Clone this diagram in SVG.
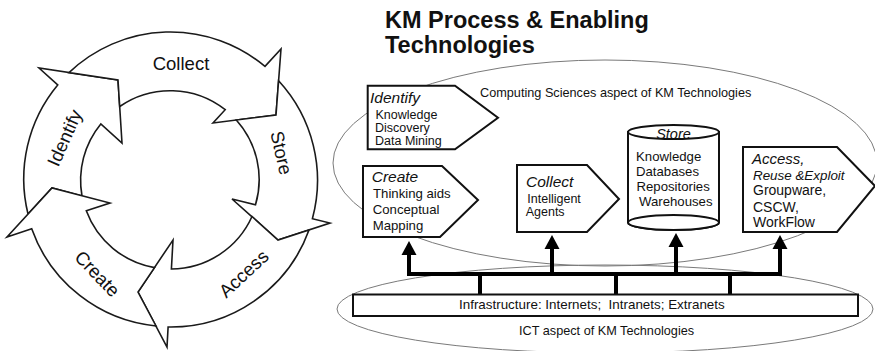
<svg xmlns="http://www.w3.org/2000/svg" width="875" height="351" viewBox="0 0 875 351">
<style>
text{font-family:"Liberation Sans",Arial,sans-serif;fill:#111}
.cyc{fill:#fff;stroke:#1a1a1a;stroke-width:1.6;stroke-linejoin:miter}
.cl{font-size:18.5px}
.box{fill:#fff;stroke:#111;stroke-width:2}
.hd{font-style:italic;font-size:15.5px}
.bd{font-size:12.5px}
.ell{fill:none;stroke:#7a7a7a;stroke-width:1}
.bus{fill:none;stroke:#000;stroke-width:4;stroke-linecap:butt}
.ah{fill:#000}
.asp{font-size:12.7px}
</style>
<rect width="875" height="351" fill="#fff"/>

<g id="cycle">
  <g id="arrow-identify">
    <path class="cyc" d="M28,214 A147,147 0 0 1 57.7,84.9 L39,68 L118,80 L122,143 L100.8,123.9 A89,89 0 0 0 82,196 L52,188 Z"/>
    <text class="cl" text-anchor="middle" transform="translate(65,138) rotate(-66)" y="6">Identify</text>
  </g>
  <g id="arrow-collect">
    <path class="cyc" d="M69,72.6 A147,147 0 0 1 265,66.4 L281,49 L276,115 L213,123 L225.2,109.7 A89,89 0 0 0 119.7,106.5 L118,80 Z"/>
    <text class="cl" text-anchor="middle" x="181" y="70">Collect</text>
  </g>
  <g id="arrow-store">
    <path class="cyc" d="M278.6,80.7 A147,147 0 0 1 312.4,218.7 L330,223 L278,240 L232,199 L255.5,204.8 A89,89 0 0 0 236.3,120 L276,115 Z"/>
    <text class="cl" text-anchor="middle" transform="translate(281,153) rotate(77)" y="6">Store</text>
  </g>
  <g id="arrow-access">
    <path class="cyc" d="M309,230 A147,147 0 0 1 168.1,327 L167,347 L138,292 L173,240 L171.4,269 A89,89 0 0 0 252,216.5 L278,240 Z"/>
    <text class="cl" text-anchor="middle" transform="translate(244,274) rotate(-43)" y="6">Access</text>
  </g>
  <g id="arrow-create">
    <path class="cyc" d="M156,326 A147,147 0 0 1 31.7,228.8 L7,237 L52,188 L110,203 L86.3,210.8 A89,89 0 0 0 154.5,267.6 L138,292 Z"/>
    <text class="cl" text-anchor="middle" transform="translate(97,274) rotate(46)" y="6">Create</text>
  </g>
</g>

<g id="title">
  <text x="385" y="28" font-size="23.5" font-weight="bold">KM Process &amp; Enabling</text>
  <text x="385" y="53" font-size="23.5" font-weight="bold">Technologies</text>
</g>

<g id="aspects">
  <ellipse id="cs-aspect" class="ell" cx="605" cy="163" rx="272" ry="103"/>
  <ellipse id="ict-aspect" class="ell" cx="605" cy="309" rx="268" ry="44"/>
  <text class="asp" x="480" y="97">Computing Sciences aspect of KM Technologies</text>
  <text class="asp" x="519" y="335">ICT aspect of KM Technologies</text>
</g>

<g id="connectors">
  <path class="bus" d="M407,274 H782"/>
  <path class="bus" d="M409,274 V253 M552,274 V247 M676,274 V245 M780,274 V247"/>
  <path class="bus" d="M480,274 V295 M616,274 V295 M730,274 V295"/>
  <path class="ah" d="M409,241 L416.5,255 L401.5,255 Z"/>
  <path class="ah" d="M552,235 L559.5,249 L544.5,249 Z"/>
  <path class="ah" d="M676,233 L683.5,247 L668.5,247 Z"/>
  <path class="ah" d="M780,235 L787.5,249 L772.5,249 Z"/>
</g>

<g id="node-identify">
  <path class="box" d="M367.7,85.7 H455 L498,117.7 L455,149.3 H367.7 Z"/>
  <text class="hd" x="370" y="103">Identify</text>
  <text class="bd" x="375.5" y="119">Knowledge</text>
  <text class="bd" x="375" y="132">Discovery</text>
  <text class="bd" x="375" y="145">Data Mining</text>
</g>

<g id="node-create">
  <path class="box" d="M363,166 H442 L478,200 L440,237 H363 Z"/>
  <text class="hd" x="371.7" y="182.3">Create</text>
  <text x="373" y="198" font-size="13.2">Thinking aids</text>
  <text x="372.7" y="214" font-size="13.2">Conceptual</text>
  <text x="372.7" y="230" font-size="13.2">Mapping</text>
</g>

<g id="node-collect">
  <path class="box" d="M517,165 H587 L619,199 L587,232 H517 Z"/>
  <text class="hd" x="526" y="187">Collect</text>
  <text class="bd" x="527.3" y="202.7">Intelligent</text>
  <text class="bd" x="525.7" y="215.7">Agents</text>
</g>

<g id="node-store">
  <path class="box" d="M628,132 V222.5 A45.5,7.5 0 0 0 719,222.5 V132 Z"/>
  <ellipse class="box" cx="673.5" cy="222.5" rx="45.5" ry="7.5"/>
  <ellipse class="box" cx="673.5" cy="132" rx="45.5" ry="7"/>
  <text x="673.5" y="139" font-size="14.5" font-style="italic" text-anchor="middle">Store</text>
  <text x="636" y="160.7" font-size="13.2">Knowledge</text>
  <text x="636" y="176" font-size="13.2">Databases</text>
  <text x="636.5" y="191" font-size="13.2">Repositories</text>
  <text x="639" y="205.7" font-size="13.2">Warehouses</text>
</g>

<g id="node-access">
  <path class="box" d="M743,147 H837 L875,186 L837,232 H743 Z"/>
  <text x="752" y="164" font-size="15" font-style="italic">Access,</text>
  <text x="753" y="180" font-size="13.4" font-style="italic">Reuse &amp;Exploit</text>
  <text x="753" y="195" font-size="14">Groupware,</text>
  <text x="753" y="212" font-size="14">CSCW,</text>
  <text x="753" y="227" font-size="14">WorkFlow</text>
</g>

<g id="node-infrastructure">
  <rect class="box" x="353" y="294.5" width="505" height="21.5"/>
  <text x="459" y="308.5" font-size="13.4" style="white-space:pre">Infrastructure: Internets;  Intranets; Extranets</text>
</g>
</svg>
